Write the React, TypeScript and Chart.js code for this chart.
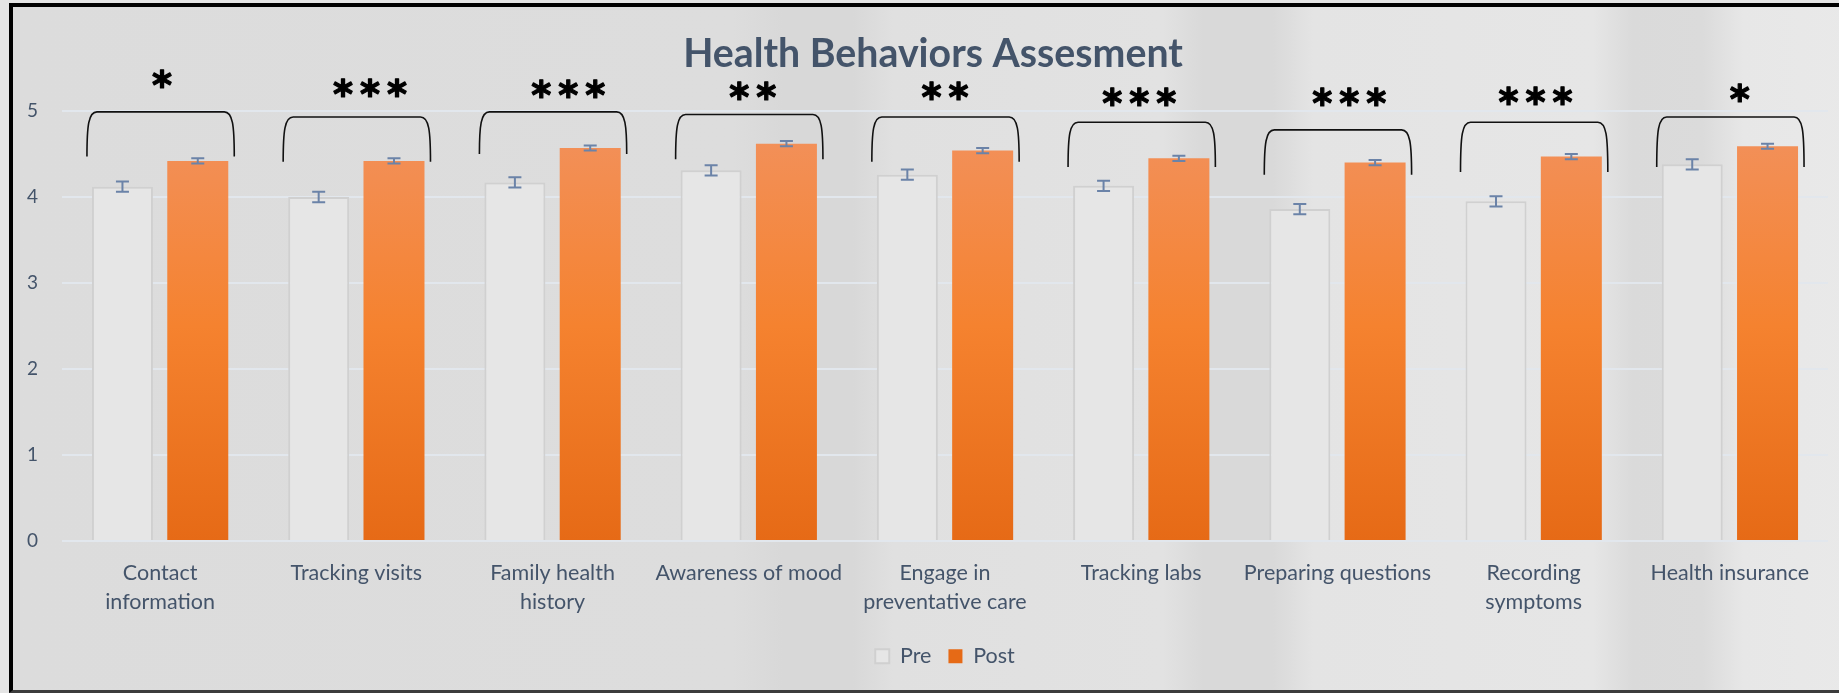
import React, { useEffect, useRef } from "react";
import { Chart, registerables } from "chart.js";

Chart.register(...registerables);

// ---------- data ----------
const categories: (string | string[])[] = [
  ["Contact", "information"],
  "Tracking visits",
  ["Family health", "history"],
  "Awareness of mood",
  ["Engage in", "preventative care"],
  "Tracking labs",
  "Preparing questions",
  ["Recording", "symptoms"],
  "Health insurance",
];
const preValues = [4.12, 4.0, 4.17, 4.31, 4.26, 4.13, 3.86, 3.95, 4.38];
const postValues = [4.42, 4.42, 4.57, 4.62, 4.54, 4.45, 4.4, 4.47, 4.59];
const preErrors = [0.06, 0.06, 0.06, 0.06, 0.06, 0.06, 0.06, 0.06, 0.06];
const postErrors = [0.03, 0.03, 0.03, 0.03, 0.03, 0.03, 0.03, 0.03, 0.03];
const significance = ["*", "***", "***", "**", "**", "***", "***", "***", "*"];
const bracketTop = [4.99, 4.93, 4.99, 4.96, 4.93, 4.87, 4.78, 4.87, 4.93];
const bracketBottom = [4.47, 4.41, 4.5, 4.44, 4.41, 4.35, 4.26, 4.29, 4.35];
const starLevel = [5.26, 5.27, 5.26, 5.24, 5.24, 5.17, 5.17, 5.18, 5.21];
const starShift = [0.01, 0.07, 0.08, 0.02, 0.0, -0.01, 0.06, 0.01, 0.05];
const yTicks = [0, 1, 2, 3, 4, 5];
const seriesNames = ["Pre", "Post"];
const TITLE = "Health Behaviors Assesment";

// ---------- style ----------
const TEXT = "#44546a";
const ERR = "#6b83a8";
const FONT = "Lato";

const annotationPlugin = {
  id: "annotations",
  afterDatasetsDraw(chart: any) {
    const ctx = chart.ctx as CanvasRenderingContext2D;
    const y = chart.scales.y;
    const x = chart.scales.x;
    const metas = [chart.getDatasetMeta(0), chart.getDatasetMeta(1)];
    const vals = [preValues, postValues];
    const errs = [preErrors, postErrors];
    ctx.save();
    // error bars
    ctx.strokeStyle = ERR;
    ctx.lineWidth = 2;
    metas.forEach((meta, d) => {
      meta.data.forEach((bar: any, i: number) => {
        const cx = bar.x;
        const hi = y.getPixelForValue(vals[d][i] + errs[d][i]);
        const lo = y.getPixelForValue(vals[d][i] - errs[d][i]);
        ctx.beginPath();
        ctx.moveTo(cx, hi);
        ctx.lineTo(cx, lo);
        ctx.moveTo(cx - 6.5, hi);
        ctx.lineTo(cx + 6.5, hi);
        ctx.moveTo(cx - 6.5, lo);
        ctx.lineTo(cx + 6.5, lo);
        ctx.stroke();
      });
    });
    // brackets
    const catW = (x.right - x.left) / categories.length;
    for (let i = 0; i < categories.length; i++) {
      const pb = metas[0].data[i];
      const qb = metas[1].data[i];
      const l = pb.x - pb.width / 2 - 5;
      const r = qb.x + qb.width / 2 + 6;
      const t = y.getPixelForValue(bracketTop[i]);
      const b = y.getPixelForValue(bracketBottom[i]);
      ctx.strokeStyle = "#111";
      ctx.lineWidth = 1.6;
      ctx.beginPath();
      ctx.moveTo(l, b);
      ctx.bezierCurveTo(l, t + 14, l + 1.5, t, l + 10, t);
      ctx.lineTo(r - 10, t);
      ctx.bezierCurveTo(r - 1.5, t, r, t + 14, r, b);
      ctx.stroke();

      // stars
      ctx.fillStyle = "#000";
      ctx.strokeStyle = "#000";
      ctx.lineWidth = 1.2;
      ctx.lineJoin = "round";
      ctx.font = `bold 100px 'DejaVu Sans'`;
      const m = ctx.measureText("*");
      const gh = m.actualBoundingBoxAscent + m.actualBoundingBoxDescent;
      const size = (100 * 18) / gh;
      ctx.font = `bold ${size}px 'DejaVu Sans'`;
      const mm = ctx.measureText("*");
      ctx.textAlign = "center";
      ctx.textBaseline = "alphabetic";
      const cy = y.getPixelForValue(starLevel[i]);
      const base = cy - (mm.actualBoundingBoxDescent - mm.actualBoundingBoxAscent) / 2;
      const center = x.getPixelForValue(i) + starShift[i] * catW;
      const chars = significance[i].split("");
      chars.forEach((c, k) => {
        const px = center + (k - (chars.length - 1) / 2) * 27;
        ctx.fillText(c, px, base);
        ctx.strokeText(c, px, base);
      });
    }
    ctx.restore();
  },
  afterDraw(chart: any) {
    const ctx = chart.ctx as CanvasRenderingContext2D;
    ctx.save();
    ctx.font = `bold 100px ${FONT}`;
    const w = ctx.measureText(TITLE).width;
    const size = (100 * 500) / w;
    ctx.font = `bold ${size}px ${FONT}`;
    ctx.fillStyle = TEXT;
    ctx.textAlign = "center";
    ctx.textBaseline = "alphabetic";
    const a = chart.chartArea;
    ctx.fillText(TITLE, (a.left + a.right) / 2 - 12, 66.7);
    ctx.restore();
  },
};

export default function App() {
  const ref = useRef<HTMLCanvasElement>(null);
  useEffect(() => {
    const canvas = ref.current!;
    let cache: any = null;
    const postFill = (c: any) => {
      const chart = c.chart;
      const area = chart.chartArea;
      if (!area) return "#f47f2e";
      if (!cache || cache.top !== area.top || cache.bottom !== area.bottom) {
        const g = chart.ctx.createLinearGradient(0, area.top, 0, area.bottom);
        g.addColorStop(0, "#f2925f");
        g.addColorStop(0.5, "#f5822f");
        g.addColorStop(1, "#e66a16");
        cache = { top: area.top, bottom: area.bottom, g };
      }
      return cache.g;
    };
    const chart = new Chart(canvas, {
      type: "bar",
      data: {
        labels: categories,
        datasets: [
          {
            label: seriesNames[0],
            data: preValues,
            backgroundColor: "#e6e6e6",
            borderColor: "#d0d0d0",
            borderWidth: 2,
          },
          {
            label: seriesNames[1],
            data: postValues,
            backgroundColor: postFill,
            borderWidth: 0,
          },
        ],
      },
      options: {
        animation: false,
        responsive: true,
        maintainAspectRatio: false,
        layout: { padding: { top: 111, left: 0, right: 11, bottom: 16 } },
        datasets: { bar: { categoryPercentage: 0.7676, barPercentage: 0.81 } },
        plugins: {
          title: { display: false },
          tooltip: { enabled: false },
          legend: {
            position: "bottom",
            fullSize: false,
            labels: {
              color: TEXT,
              font: { family: FONT, size: 21.5 },
              boxWidth: 14,
              boxHeight: 14,
              padding: 17,
            },
          },
        },
        scales: {
          x: {
            grid: { display: false, drawTicks: false },
            border: { display: false },
            ticks: {
              color: TEXT,
              font: { family: FONT, size: 21.5, lineHeight: 1.35 },
              padding: 17.2,
              autoSkip: false,
              maxRotation: 0,
              minRotation: 0,
            },
            afterFit: (s: any) => {
              s.height = 87.5;
            },
          },
          y: {
            min: 0,
            max: 5,
            afterBuildTicks: (s: any) => {
              s.ticks = yTicks.map((v) => ({ value: v }));
            },
            ticks: {
              color: TEXT,
              font: { family: FONT, size: 19 },
              padding: 24,
            },
            grid: { color: "#e2e7ed", lineWidth: 2, drawTicks: false },
            border: { display: false },
            afterFit: (s: any) => {
              s.width = 62;
            },
          },
        },
      },
      plugins: [annotationPlugin],
    });
    return () => chart.destroy();
  }, []);

  const bg =
    "linear-gradient(90deg, #dcdcdc 0px, #dddddd 720px, #d8d8d8 770px, #d8d8d8 840px, #e0e0e0 880px, #e2e2e2 1150px, #d9d9d9 1190px, #d9d9d9 1260px, #e4e4e4 1300px, #e6e6e6 1580px, #dadada 1620px, #dbdbdb 1690px, #e7e7e7 1730px, #e9e9e9 100%)";

  return (
    <div
      style={{
        position: "absolute",
        left: 0,
        top: 0,
        width: 1839,
        height: 693,
        overflow: "hidden",
        background: "#e4e4e4",
      }}
    >
      <div
        style={{
          position: "absolute",
          left: 9,
          top: 3,
          width: 1850,
          height: 690,
          borderLeft: "4px solid #000",
          borderTop: "4px solid #000",
          borderBottom: "3px solid #3c3c3c",
          background: bg,
          boxSizing: "border-box",
        }}
      />
      <div style={{ position: "absolute", left: 0, top: 0, width: 1839, height: 693 }}>
        <canvas ref={ref} />
      </div>
    </div>
  );
}
